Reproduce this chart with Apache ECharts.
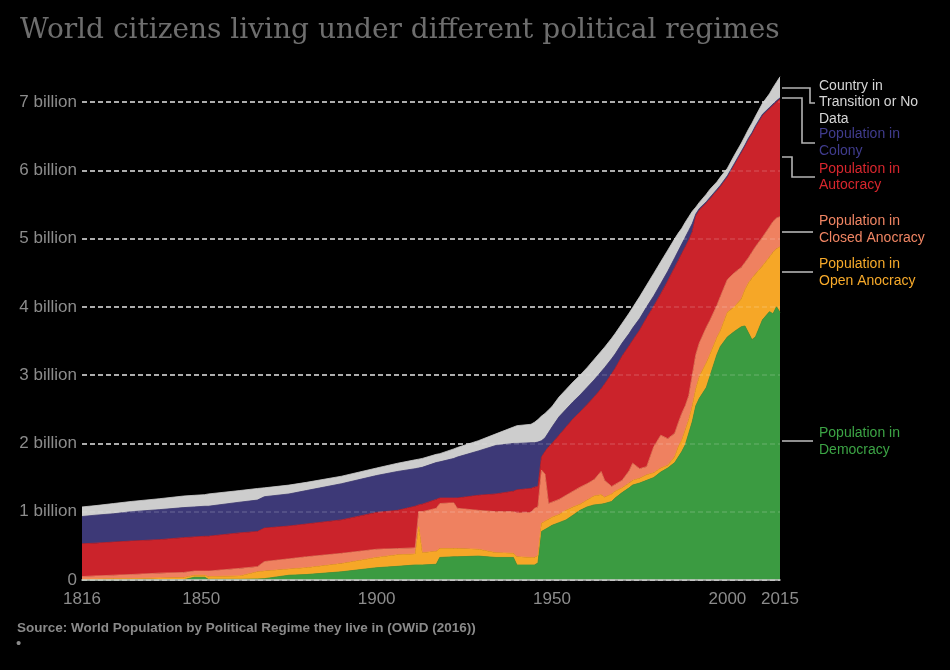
<!DOCTYPE html>
<html>
<head>
<meta charset="utf-8">
<script src="https://cdn.jsdelivr.net/npm/echarts@6.0.0/dist/echarts.min.js"></script>
<style>
html,body{margin:0;padding:0;background:#000;}
#chart{width:950px;height:670px;}
</style>
</head>
<body>
<div id="chart"></div>
<script>
// Years
var years = [1816,1820,1825,1830,1838,1845,1848,1851,1852,1861,
1866,1868,1875,1880,1890,1900,1906,1911,1912,1913,
1917,1918,1922,1923,1929,1934,1939,1940,1944,1945,
1946,1947,1948,1949,1950,1952,1954,1956,1958,1960,
1962,1964,1965,1967,1968,1970,1972,1973,1975,1977,
1979,1981,1983,1985,1986,1987,1988,1989,1990,1991,
1992,1994,1995,1997,1998,2000,2002,2004,2005,2006,
2007,2008,2010,2012,2013,2014,2015];

// Population (billions) by regime
var democracy = [0,0,0,0.003,0.005,0.005,0.04,0.04,0.01,0.01,
0.015,0.02,0.07,0.08,0.12,0.18,0.20,0.22,0.22,0.22,
0.23,0.33,0.34,0.34,0.35,0.33,0.33,0.22,0.22,0.22,
0.25,0.71,0.74,0.77,0.80,0.84,0.88,0.95,1.02,1.07,
1.10,1.11,1.12,1.15,1.20,1.28,1.35,1.39,1.42,1.46,
1.50,1.58,1.64,1.72,1.80,1.88,1.98,2.15,2.32,2.55,
2.66,2.82,2.98,3.30,3.42,3.56,3.64,3.71,3.72,3.62,
3.52,3.56,3.81,3.93,3.90,4.00,3.92];

var openAnocracy = [0.01,0.015,0.02,0.017,0.025,0.03,0.03,0.03,0.04,0.05,
0.105,0.11,0.09,0.10,0.12,0.15,0.17,0.16,0.56,0.18,
0.19,0.13,0.12,0.12,0.10,0.07,0.06,0.12,0.11,0.11,
0.11,0.12,0.12,0.12,0.12,0.12,0.14,0.12,0.09,0.10,
0.13,0.14,0.09,0.11,0.10,0.07,0.07,0.07,0.07,0.08,
0.07,0.06,0.04,0.09,0.15,0.17,0.22,0.20,0.23,0.25,
0.32,0.36,0.32,0.25,0.23,0.36,0.36,0.41,0.53,0.73,
0.90,0.92,0.79,0.80,0.90,0.85,0.96];

var closedAnocracy = [0.04,0.045,0.05,0.06,0.07,0.075,0.06,0.06,0.08,0.11,
0.075,0.14,0.15,0.16,0.15,0.12,0.09,0.09,0.22,0.60,
0.63,0.66,0.67,0.59,0.57,0.60,0.61,0.64,0.66,0.72,
0.71,0.78,0.69,0.23,0.22,0.22,0.22,0.23,0.25,0.24,
0.24,0.34,0.25,0.11,0.10,0.11,0.18,0.25,0.14,0.12,
0.38,0.48,0.39,0.34,0.35,0.39,0.35,0.35,0.45,0.50,
0.49,0.52,0.50,0.47,0.50,0.48,0.50,0.46,0.40,0.37,
0.38,0.40,0.42,0.44,0.45,0.45,0.44];

var autocracy = [0.48,0.48,0.485,0.49,0.49,0.51,0.50,0.51,0.51,0.52,
0.515,0.49,0.48,0.48,0.49,0.54,0.56,0.61,0.10,0.11,
0.13,0.08,0.07,0.15,0.22,0.26,0.30,0.34,0.35,0.31,
0.30,0.19,0.33,0.83,0.86,0.94,1.00,1.06,1.10,1.16,
1.21,1.21,1.41,1.65,1.70,1.82,1.83,1.80,2.03,2.18,
2.06,2.07,2.31,2.43,2.38,2.34,2.33,2.28,2.10,2.03,
1.95,1.82,1.78,1.68,1.61,1.50,1.58,1.68,1.70,1.73,
1.73,1.75,1.78,1.73,1.70,1.70,1.72];

var colony = [0.40,0.41,0.415,0.43,0.44,0.44,0.44,0.44,0.44,0.45,
0.46,0.46,0.47,0.49,0.53,0.54,0.57,0.55,0.54,0.54,
0.54,0.53,0.58,0.60,0.65,0.71,0.70,0.68,0.67,0.65,
0.65,0.24,0.20,0.21,0.24,0.27,0.26,0.25,0.25,0.25,
0.25,0.25,0.24,0.22,0.21,0.19,0.18,0.18,0.17,0.16,
0.15,0.15,0.14,0.14,0.14,0.14,0.14,0.14,0.12,0.03,
0.02,0.02,0.02,0.02,0.02,0.02,0.02,0.02,0.02,0.02,
0.02,0.02,0.02,0.02,0.02,0.02,0.02];

var transition = [0.14,0.14,0.15,0.15,0.16,0.17,0.17,0.17,0.18,0.17,
0.17,0.13,0.13,0.12,0.11,0.11,0.12,0.13,0.13,0.13,
0.12,0.12,0.14,0.14,0.15,0.17,0.24,0.26,0.27,0.30,
0.33,0.36,0.36,0.33,0.30,0.29,0.29,0.29,0.29,0.29,
0.30,0.30,0.30,0.30,0.30,0.29,0.30,0.30,0.32,0.32,
0.33,0.32,0.31,0.28,0.26,0.23,0.22,0.20,0.18,0.10,
0.09,0.11,0.12,0.11,0.12,0.11,0.12,0.12,0.13,0.13,
0.14,0.14,0.16,0.20,0.24,0.27,0.31];

var xTicks = [1816,1850,1900,1950,2000,2015];
var seriesNames = ['Population in Democracy','Population in Open Anocracy','Population in Closed Anocracy','Population in Autocracy','Population in Colony','Country in Transition or No Data'];
var seriesValues = [democracy, openAnocracy, closedAnocracy, autocracy, colony, transition];
var colors = ['#3b9b41','#f6a727','#ef8160','#cb232b','#3d3977','#cdcdcd'];

var chart = echarts.init(document.getElementById('chart'), null, {renderer:'canvas'});

// value first, year second: the value dimension is the stacked one
var series = seriesValues.map(function(vals, k){
  return {
    name: seriesNames[k],
    type: 'line',
    stack: 'total',
    data: years.map(function(y,i){ return [vals[i], y]; }),
    encode: {x: 1, y: 0},
    showSymbol: false,
    symbol: 'none',
    clip: false,
    silent: true,
    lineStyle: {width: 0.8, color: colors[k]},
    areaStyle: {color: colors[k], opacity: 1},
    emphasis: {disabled: true}
  };
});

var labelFont = 'Liberation Sans, Arial, sans-serif';
var sideLabels = [
  {text:'Country in\nTransition or No\nData', top:78, lh:16.3, color:'#d6d6d6'},
  {text:'Population in\nColony', top:126, lh:16.5, color:'#403c8e'},
  {text:'Population in\nAutocracy', top:160.5, lh:16.5, color:'#d8262d'},
  {text:'Population in\nClosed Anocracy', top:213, lh:17, color:'#f08563'},
  {text:'Population in\nOpen Anocracy', top:256, lh:17, color:'#f7aa2a'},
  {text:'Population in\nDemocracy', top:424.5, lh:17, color:'#3ca445'}
];
var leaders = [
  [[782,88],[810,88],[810,103],[815,103]],
  [[782,98],[802,98],[802,143],[815,143]],
  [[782,157],[792,157],[792,177],[815,177]],
  [[782,232],[813,232]],
  [[782,272],[813,272]],
  [[782,441],[813,441]]
];

var graphics = [];
leaders.forEach(function(pts){
  graphics.push({type:'polyline', shape:{points:pts}, style:{stroke:'#b4b4b4', lineWidth:1.6, fill:null}, silent:true});
});
sideLabels.forEach(function(l){
  graphics.push({type:'text', left:819, top:l.top, style:{text:l.text, fill:l.color, fontSize:14, fontFamily:labelFont, lineHeight:l.lh}, silent:true});
});
graphics.push({type:'text', left:17, top:621, style:{text:'Source: World Population by Political Regime they live in (OWiD (2016))', fill:'#8a8a8a', fontSize:13.5, fontFamily:labelFont, fontWeight:'bold'}, silent:true});
graphics.push({type:'text', left:16, top:636, style:{text:'\u2022', fill:'#8a8a8a', fontSize:15, fontFamily:labelFont}, silent:true});

chart.setOption({
  backgroundColor: '#000',
  animation: false,
  title: {
    text: 'World citizens living under different political regimes',
    left: 15, top: 12,
    textStyle: {fontFamily: 'DejaVu Serif', fontSize: 28, fontWeight: 'normal', color: '#6e6e6e'}
  },
  grid: {left: 82, right: 170, top: 102, bottom: 90},
  xAxis: {
    type: 'value', min: 1816, max: 2015,
    axisLabel: {customValues: xTicks, formatter: function(v){ return String(v); }, color: '#8c8c8c', fontSize: 17, fontFamily: labelFont, margin: 11},
    axisTick: {show: false},
    splitLine: {show: false},
    axisLine: {lineStyle: {color: '#c4c4c4', width: 1.5}},
    z: 5
  },
  yAxis: [{
    type: 'value', min: 0, max: 7, interval: 1,
    axisLabel: {
      formatter: function(v){ return v === 0 ? '0' : v + ' billion'; },
      color: '#8c8c8c', fontSize: 17, fontFamily: labelFont, margin: 5,
      verticalAlign: 'middle', padding: [0,0,9,0]
    },
    axisLine: {show: false}, axisTick: {show: false},
    splitLine: {lineStyle: {color: '#d9d9d9', type: [5,3], width: 1.5}}
  },{
    type: 'value', min: 0, max: 7, interval: 1,
    axisLabel: {show: false}, axisLine: {show: false}, axisTick: {show: false},
    splitLine: {lineStyle: {color: 'rgba(255,255,255,0.16)', type: [5,3], width: 1.5}},
    z: 10
  }],
  series: series,
  graphic: graphics
});
</script>
</body>
</html>
